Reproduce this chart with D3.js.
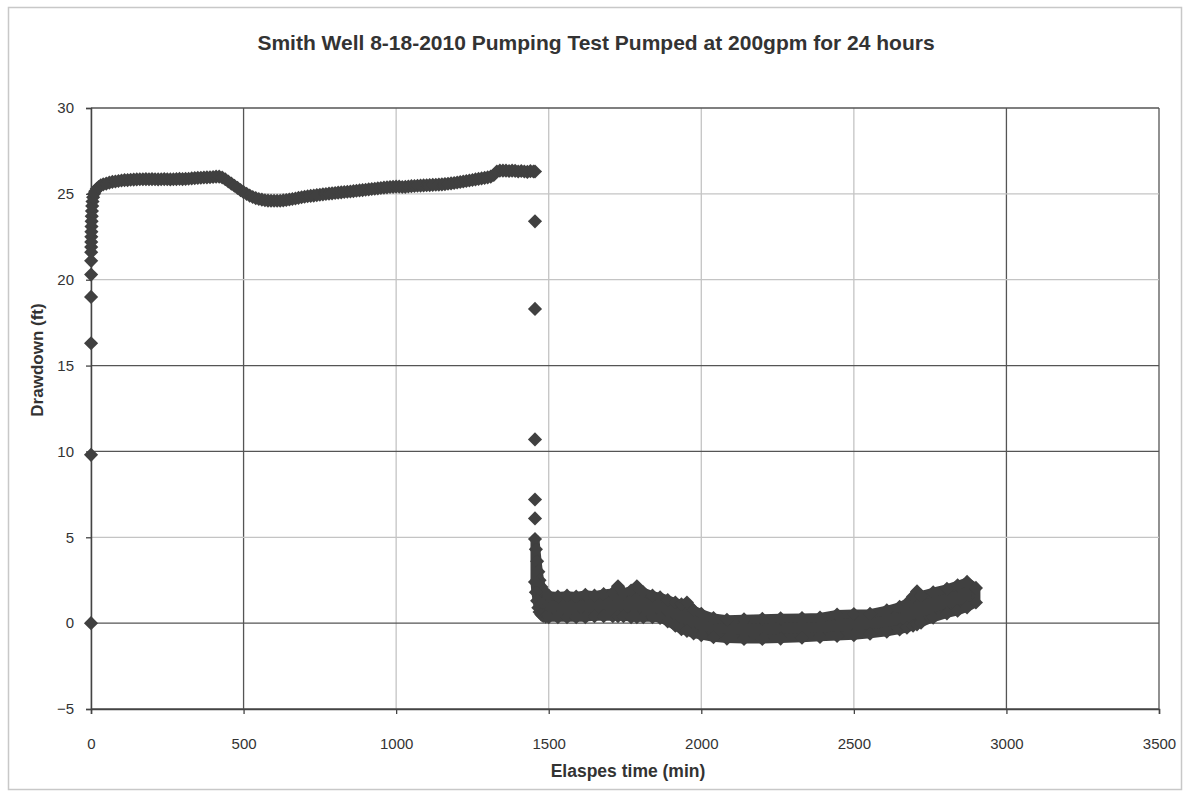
<!DOCTYPE html>
<html><head><meta charset="utf-8">
<script src="https://cdn.jsdelivr.net/npm/d3@7"></script>
<style>body{margin:0;background:#fff}</style>
</head><body><svg id="c" width="1189" height="797"></svg>
<script>
// ---------- data ----------
const titleText = "Smith Well 8-18-2010 Pumping Test Pumped at 200gpm for 24 hours";
const xLabel = "Elaspes time (min)";
const yLabel = "Drawdown (ft)";
const xTicks = [0, 500, 1000, 1500, 2000, 2500, 3000, 3500];
const yTicks = [-5, 0, 5, 10, 15, 20, 25, 30];

// pumping phase (min, ft)
const pumpTime = [0,0.1,0.2,0.3,0.4,0.5,0.6,0.7,0.8,1,1.3,1.6,2,2.5,3,4,5,7,10,14,19,25,32,40,50,60,70,80,90,100,
 110,120,130,140,150,160,170,180,190,200,210,220,230,240,250,260,270,280,290,300,310,320,330,340,350,360,370,380,390,400,
 410,420,430,440,450,460,470,480,490,500,510,520,530,540,550,560,570,580,590,600,610,620,630,640,650,660,670,680,690,700,
 710,720,730,740,750,760,770,780,790,800,810,820,830,840,850,860,870,880,890,900,910,920,930,940,950,960,970,980,990,1000,
 1010,1020,1030,1040,1050,1060,1070,1080,1090,1100,1110,1120,1130,1140,1150,1160,1170,1180,1190,1200,1210,1220,1230,1240,1250,
 1260,1270,1280,1290,1300,1310,1320,1330,1340,1350,1360,1370,1380,1390,1400,1410,1420,1430,1440,1450,1455];
const pumpDrawdown = [0,9.8,16.3,19.0,20.3,21.1,21.6,21.9,22.2,22.5,22.8,23.1,23.4,23.7,24.0,24.3,24.55,24.8,25.0,25.15,25.3,25.4,25.5,25.55,25.6,25.65,25.7,25.72,25.75,25.78,
 25.8,25.8,25.82,25.83,25.84,25.85,25.85,25.86,25.85,25.86,25.85,25.84,25.85,25.86,25.85,25.84,25.85,25.86,25.87,25.86,25.87,25.88,25.9,25.92,25.93,25.94,25.95,25.96,25.97,25.98,
 26.0,26.0,25.95,25.85,25.72,25.6,25.47,25.35,25.22,25.1,25.0,24.9,24.82,24.75,24.7,24.66,24.63,24.61,24.6,24.6,24.6,24.6,24.62,24.64,24.67,24.7,24.73,24.77,24.8,24.83,
 24.86,24.88,24.9,24.93,24.95,24.97,24.99,25.01,25.03,25.05,25.07,25.09,25.11,25.12,25.14,25.16,25.18,25.2,25.22,25.24,25.26,25.28,25.3,25.32,25.34,25.36,25.38,25.4,25.41,25.42,
 25.42,25.4,25.41,25.43,25.45,25.46,25.47,25.48,25.49,25.5,25.51,25.52,25.53,25.54,25.55,25.57,25.59,25.61,25.63,25.66,25.69,25.72,25.75,25.78,25.81,
 25.84,25.87,25.9,25.93,25.96,26.0,26.1,26.3,26.35,26.35,26.35,26.33,26.35,26.34,26.3,26.33,26.3,26.28,26.32,26.3,26.3];

// recovery: isolated readings right after pump stop
const jumpTime = [1455, 1455, 1455, 1455, 1455];
const jumpDrawdown = [23.4, 18.3, 10.7, 7.2, 6.1];

// recovery: spread of the dense readings (upper / lower envelope)
const recTime = [1455,1458,1462,1466,1470,1476,1482,1490,1500,1530,1560,1590,1620,1650,1680,1710,1727,1745,1770,1789,1810,1840,1865,1890,1915,1935,1953,1975,2000,
 2040,2084,2140,2200,2260,2330,2389,2445,2500,2553,2608,2650,2674,2694,2707,2720,2760,2805,2840,2871,2900];
const recUpper = [4.9,4.3,3.6,3.0,2.5,2.1,1.9,1.75,1.6,1.55,1.6,1.55,1.65,1.6,1.7,1.75,2.15,1.75,1.9,2.15,1.8,1.6,1.5,1.35,1.2,1.1,1.2,0.75,0.55,
 0.3,0.2,0.22,0.25,0.28,0.3,0.33,0.5,0.53,0.55,0.75,0.95,1.15,1.55,1.85,1.6,1.8,2.0,2.2,2.4,2.05];
const recLower = [2.4,1.8,1.3,0.9,0.65,0.5,0.42,0.38,0.35,0.35,0.35,0.35,0.35,0.4,0.4,0.4,0.4,0.4,0.35,0.35,0.35,0.35,0.3,0.1,-0.15,-0.35,-0.45,-0.6,-0.7,
 -0.82,-0.9,-0.92,-0.92,-0.9,-0.85,-0.8,-0.75,-0.7,-0.62,-0.5,-0.37,-0.27,-0.15,-0.07,0.03,0.32,0.57,0.72,0.92,1.2];

// ---------- chart ----------
const svg = d3.select('#c');
const x = d3.scaleLinear().domain([0, 3500]).range([91, 1159]);
const y = d3.scaleLinear().domain([-5, 30]).range([709, 108]);
const ink = '#404040';
const font = 'Liberation Sans, Arial, sans-serif';

// outer frame
svg.append('rect').attr('x', 8.5).attr('y', 7.5).attr('width', 1173).attr('height', 782)
  .attr('fill', '#fff').attr('stroke', '#c8c8c8').attr('stroke-width', 1.5);

// gridlines (scanned original has mixed dark / light lines)
const darkX = new Set([500, 3000, 3500]);
const darkY = new Set([30, 15, 10, 0, -5]);
svg.append('g').selectAll('line').data(xTicks).join('line')
  .attr('x1', d => x(d)).attr('x2', d => x(d)).attr('y1', y(30)).attr('y2', y(-5))
  .attr('stroke', d => darkX.has(d) ? '#555' : '#c4c4c4')
  .attr('stroke-width', 1.3);
svg.append('g').selectAll('line').data(yTicks).join('line')
  .attr('x1', x(0)).attr('x2', x(3500)).attr('y1', d => y(d)).attr('y2', d => y(d))
  .attr('stroke', d => darkY.has(d) ? '#555' : '#c4c4c4')
  .attr('stroke-width', 1.3);

// axes
const xAxis = d3.axisBottom(x).tickValues(xTicks).tickSize(5).tickPadding(24).tickFormat(d3.format('d'));
const yAxis = d3.axisLeft(y).tickValues(yTicks).tickSize(5).tickPadding(12).tickFormat(d3.format('d'));
const gx = svg.append('g').attr('transform', `translate(0,${y(-5)})`).call(xAxis);
const gy = svg.append('g').attr('transform', `translate(${x(0)},0)`).call(yAxis);
[gx, gy].forEach(g => {
  g.select('.domain').attr('stroke', '#444').attr('stroke-width', 1.5);
  g.selectAll('.tick line').attr('stroke', '#444').attr('stroke-width', 1.3);
  g.selectAll('.tick text').attr('font-family', font).attr('font-size', 15).attr('fill', '#333');
});

// recovery band (dense readings)
const area = d3.area()
  .x((d, i) => x(recTime[i]))
  .y0((d, i) => y(recLower[i]))
  .y1((d, i) => y(recUpper[i]))
  .curve(d3.curveLinear);
svg.append('path').datum(recTime).attr('d', area).attr('fill', ink)
  .attr('stroke', ink).attr('stroke-width', 9).attr('stroke-linejoin', 'round');

// diamond markers
const diamond = d3.symbol().type(d3.symbolSquare).size(100)();
function markers(ts, vs) {
  svg.append('g').selectAll('path').data(ts).join('path')
    .attr('d', diamond)
    .attr('transform', (d, i) => `translate(${x(d)},${y(vs[i])}) rotate(45)`)
    .attr('fill', ink);
}
markers(pumpTime, pumpDrawdown);
markers(jumpTime, jumpDrawdown);
markers(recTime, recUpper);
markers(recTime, recLower);

// titles
svg.append('text').attr('x', 596).attr('y', 50).attr('text-anchor', 'middle')
  .attr('font-family', font).attr('font-weight', 'bold').attr('font-size', 21).attr('fill', '#333')
  .text(titleText);
svg.append('text').attr('x', 628).attr('y', 777).attr('text-anchor', 'middle')
  .attr('font-family', font).attr('font-weight', 'bold').attr('font-size', 17.5).attr('fill', '#333')
  .text(xLabel);
svg.append('text').attr('transform', 'translate(43,360) rotate(-90)').attr('text-anchor', 'middle')
  .attr('font-family', font).attr('font-weight', 'bold').attr('font-size', 17).attr('fill', '#333')
  .text(yLabel);
</script></body></html>
